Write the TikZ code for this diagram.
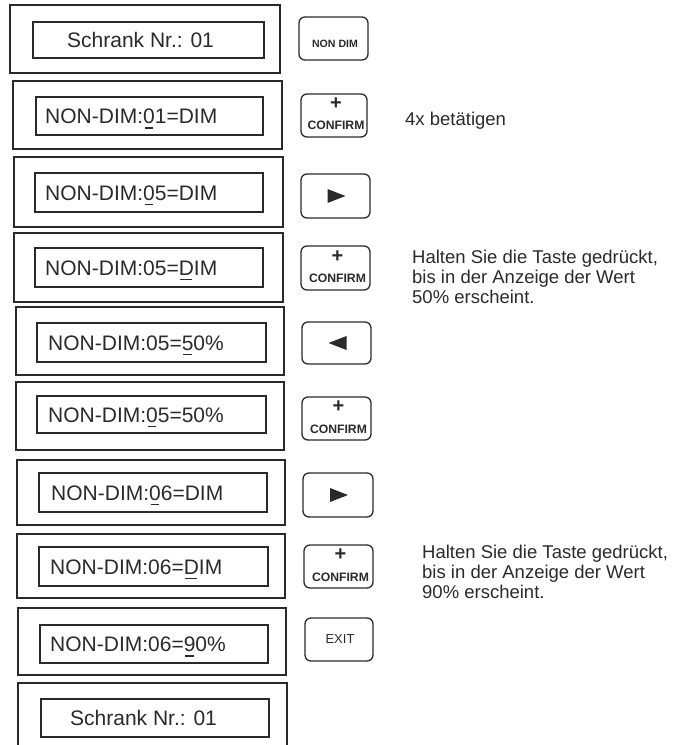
\documentclass[tikz,border=0pt]{standalone}
\usepackage{fontspec}
\setmainfont{Liberation Sans}
\usetikzlibrary{fit,calc}
\definecolor{ink}{HTML}{2A2A2A}
\newcommand\ulch[1]{\setbox0\hbox{#1}\rlap{\hskip1.5pt\rule[-5pt]{\dimexpr\wd0-3pt\relax}{1.3pt}}#1}
\begin{document}
\begin{tikzpicture}[x=1pt,y=-1pt,
  outerbox/.style={draw=ink,line width=1.3pt,inner sep=0pt},
  innerbox/.style={draw=ink,line width=1.4pt,inner sep=0pt},
  keybox/.style={draw=ink,line width=1.3pt,inner sep=0pt,rounded corners=6pt},
  disp/.style={anchor=base west,inner sep=0pt,text=ink,font=\fontsize{21}{25}\selectfont},
  plus/.style={inner sep=0pt,text=ink,font=\fontsize{20}{20}\selectfont\bfseries},
  keylbl/.style={inner sep=0pt,text=ink,font=\fontsize{12.2}{14}\selectfont\bfseries},
  note/.style={anchor=north west,inner sep=0pt,align=left,text=ink,font=\fontsize{18.5}{20}\selectfont},
  tri/.style={fill=ink}]
\useasboundingbox (0,0) rectangle (675,745);

% row 1
\node[outerbox,fit={(10,5) (280,73)}] (o1) {};
\node[innerbox,fit={(33,22) (264,58)}] (i1) {};
\node[disp] (t1) at (67,47.5) {Schrank Nr.: 01};
\node[keybox,fit={(299,17) (368,60)}] (k1) {};
\node[inner sep=0pt,text=ink,font=\fontsize{10.6}{12}\selectfont\bfseries] (l1) at (335,43.5) {NON DIM};

% row 2
\node[outerbox,fit={(13,81) (282,149)}] (o2) {};
\node[innerbox,fit={(36,97) (263,135)}] (i2) {};
\node[disp] (t2) at (45,123.5) {NON-DIM:\ulch{0}1=DIM};
\node[keybox,fit={(301,94) (367,137)}] (k2) {};
\node[plus] (p2) at (336,103.5) {+};
\node[keylbl] (c2) at (336,125.5) {CONFIRM};
\node[anchor=base west,inner sep=0pt,text=ink,font=\fontsize{18.5}{20}\selectfont] (n1) at (405,125) {4x betätigen};

% row 3
\node[outerbox,fit={(14,157) (283,227)}] (o3) {};
\node[innerbox,fit={(35,173) (263,212)}] (i3) {};
\node[disp] (t3) at (45,200) {NON-DIM:\ulch{0}5=DIM};
\node[keybox,fit={(301,174) (370,218)}] (k3) {};
\fill[tri] ($(k3.center)+(-8,-7)$) -- ++(18,7) -- ++(-18,7) -- cycle;

% row 4
\node[outerbox,fit={(14,233) (283,302)}] (o4) {};
\node[innerbox,fit={(35,248) (263,287)}] (i4) {};
\node[disp] (t4) at (45,275) {NON-DIM:05=\ulch{D}IM};
\node[keybox,fit={(301,246) (370,290)}] (k4) {};
\node[plus] (p4) at (337.5,256.5) {+};
\node[keylbl] (c4) at (337.5,278.5) {CONFIRM};
\node[note] (n2) at (412,249.75) {Halten Sie die Taste gedrückt,\\bis in der Anzeige der Wert\\50\% erscheint.};

% row 5
\node[outerbox,fit={(16,307) (284,375)}] (o5) {};
\node[innerbox,fit={(37,323) (266,362)}] (i5) {};
\node[disp] (t5) at (48,350) {NON-DIM:05=\ulch{5}0\%};
\node[keybox,fit={(302,322) (371,364)}] (k5) {};
\fill[tri] ($(k5.center)+(10,-7)$) -- ++(-18,7) -- ++(18,7) -- cycle;

% row 6
\node[outerbox,fit={(16,382) (284,450)}] (o6) {};
\node[innerbox,fit={(37,396) (266,433)}] (i6) {};
\node[disp] (t6) at (48,422) {NON-DIM:\ulch{0}5=50\%};
\node[keybox,fit={(302,397) (371,440)}] (k6) {};
\node[plus] (p6) at (338.5,407) {+};
\node[keylbl] (c6) at (338.5,429) {CONFIRM};

% row 7
\node[outerbox,fit={(17,460) (285,525)}] (o7) {};
\node[innerbox,fit={(39,473) (267,512)}] (i7) {};
\node[disp] (t7) at (51,500) {NON-DIM:\ulch{0}6=DIM};
\node[keybox,fit={(303,473) (373,517)}] (k7) {};
\fill[tri] ($(k7.center)+(-8,-7)$) -- ++(18,7) -- ++(-18,7) -- cycle;

% row 8
\node[outerbox,fit={(17,534) (285,598)}] (o8) {};
\node[innerbox,fit={(39,547) (268,586)}] (i8) {};
\node[disp] (t8) at (50,574) {NON-DIM:06=\ulch{D}IM};
\node[keybox,fit={(304,545) (373,588)}] (k8) {};
\node[plus] (p8) at (340.5,555) {+};
\node[keylbl] (c8) at (340.5,577) {CONFIRM};
\node[note] (n3) at (422,544.75) {Halten Sie die Taste gedrückt,\\bis in der Anzeige der Wert\\90\% erscheint.};

% row 9
\node[outerbox,fit={(18,608) (286,675)}] (o9) {};
\node[innerbox,fit={(40,625) (268,663)}] (i9) {};
\node[disp] (t9) at (50,651.5) {NON-DIM:06=\ulch{9}0\%};
\node[keybox,fit={(305,618) (373,661)}] (k9) {};
\node[inner sep=0pt,text=ink,font=\fontsize{13}{15}\selectfont] (l9) at (340,639.5) {EXIT};

% row 10
\node[outerbox,fit={(18,683) (287,752)}] (o10) {};
\node[innerbox,fit={(41,699) (269,737)}] (i10) {};
\node[disp] (t10) at (70,725.5) {Schrank Nr.: 01};
\end{tikzpicture}
\end{document}
